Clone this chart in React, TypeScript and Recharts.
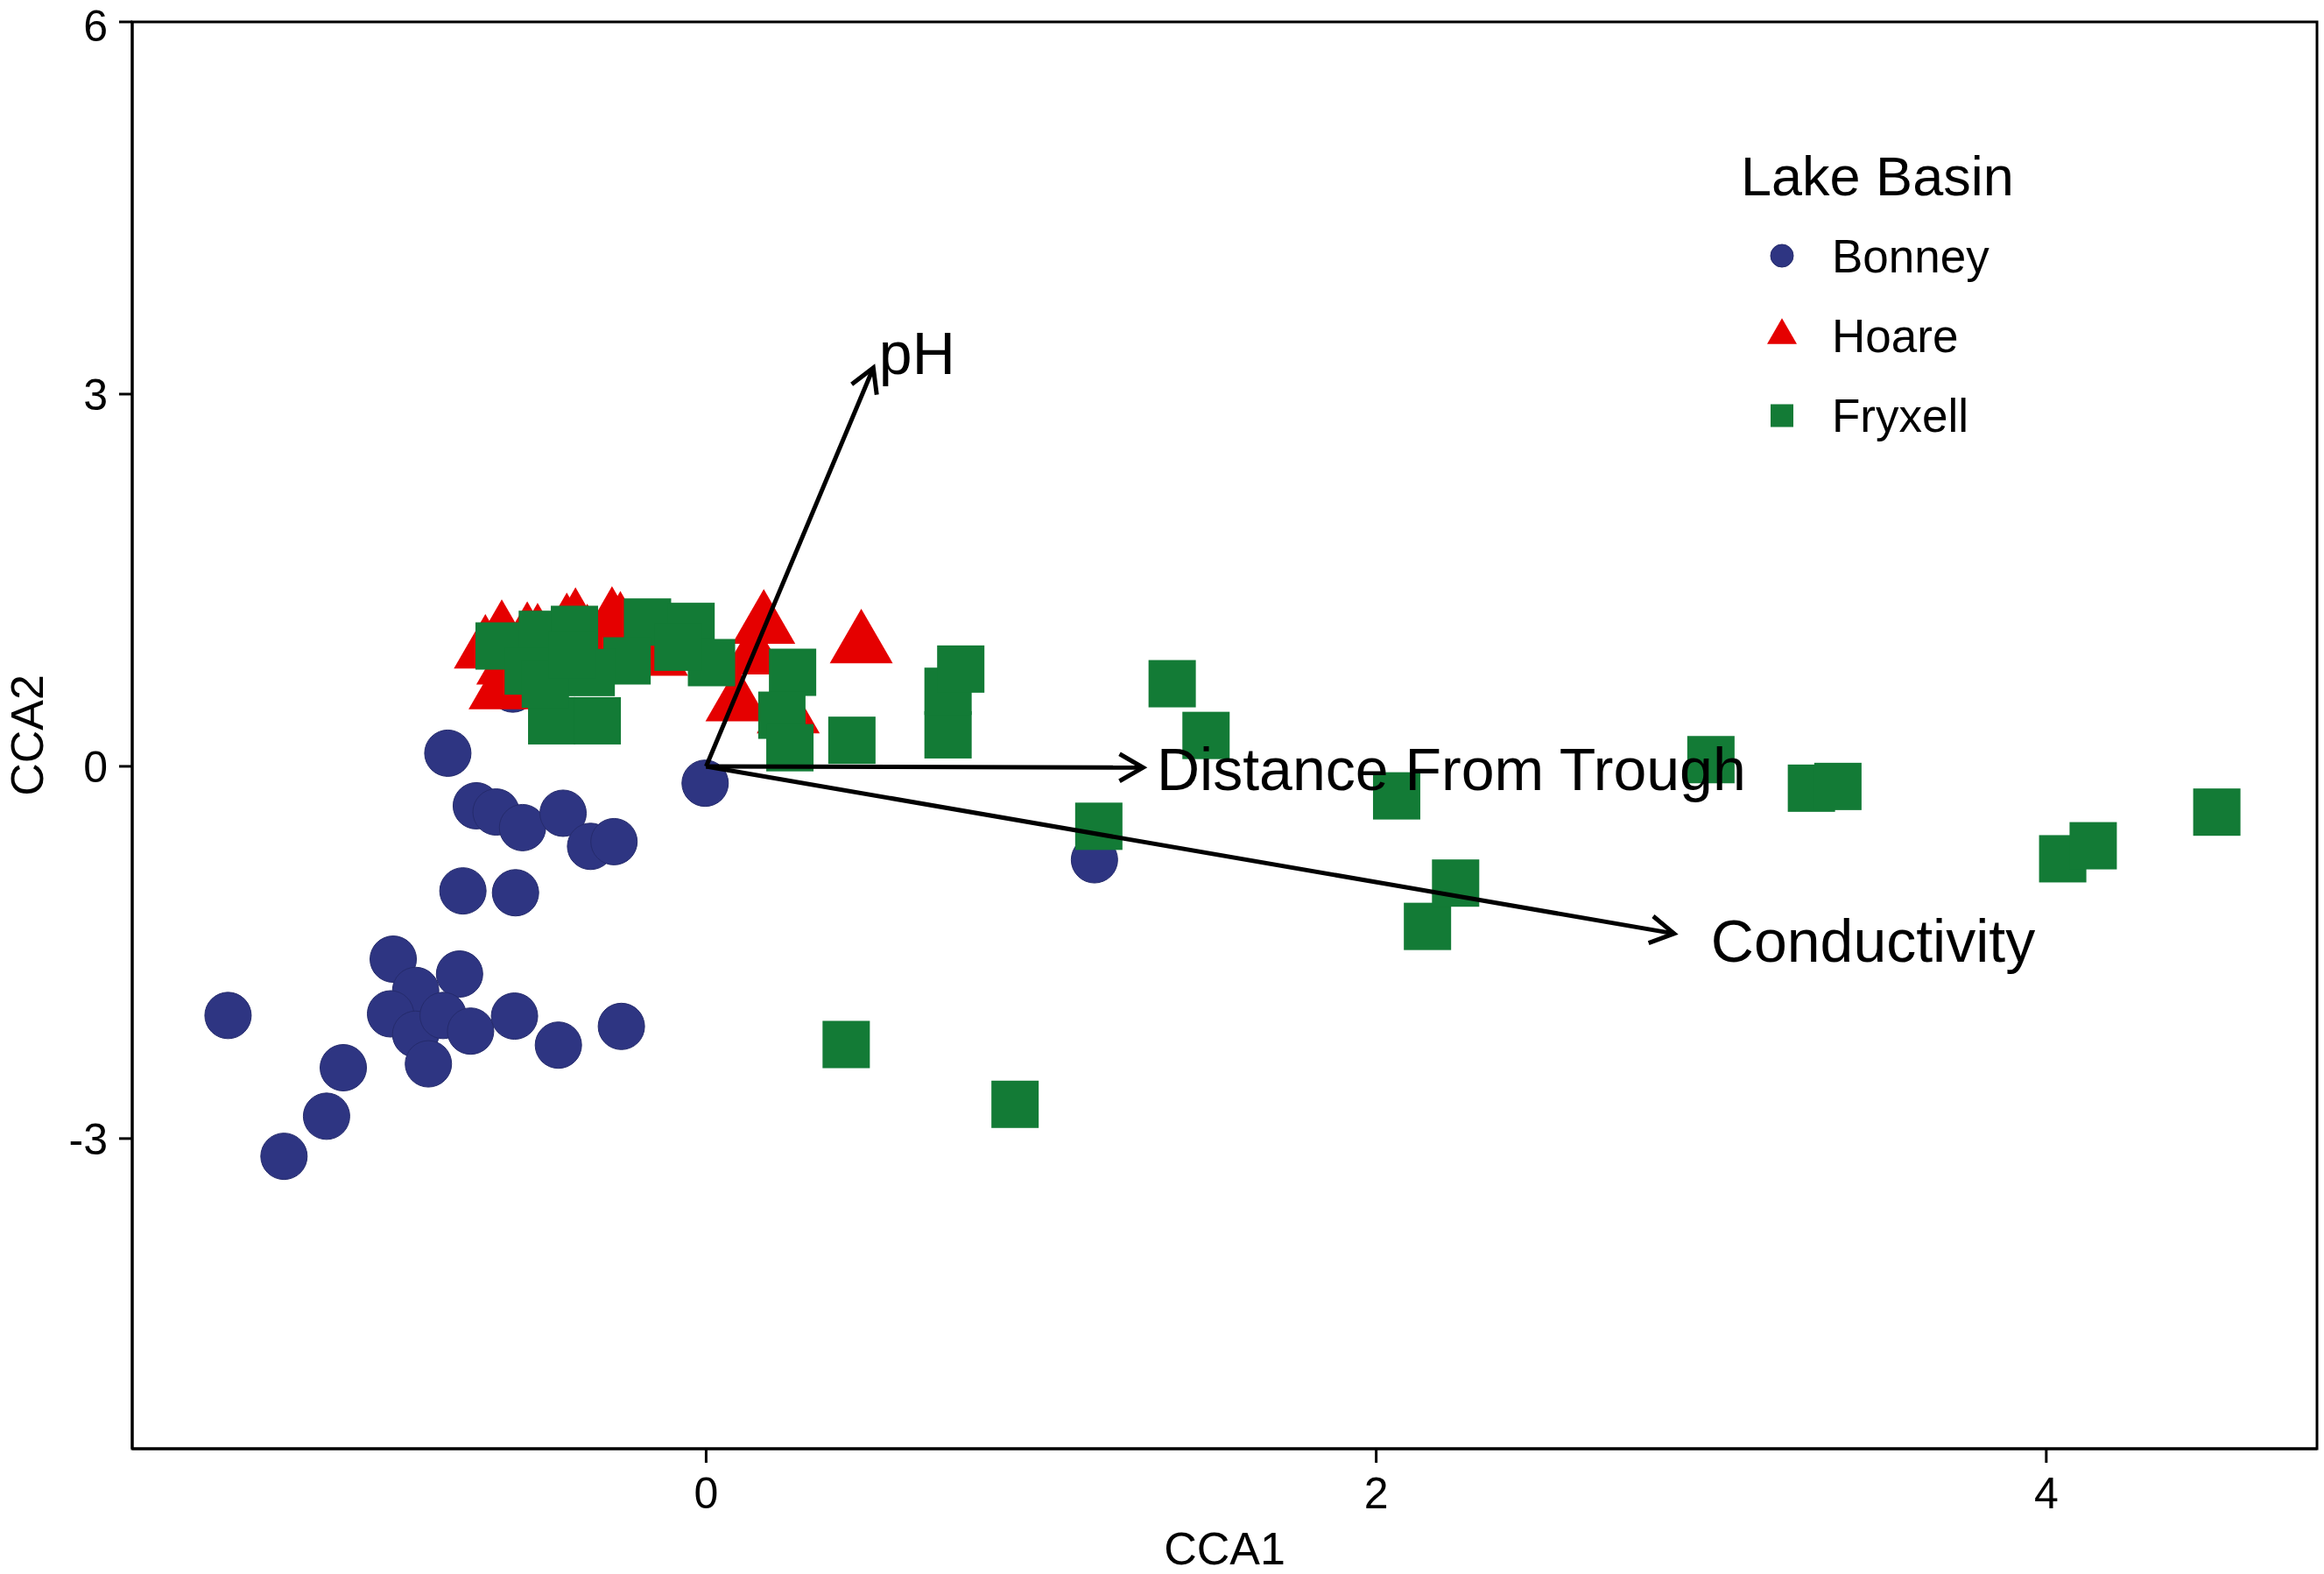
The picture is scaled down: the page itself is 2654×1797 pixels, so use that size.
import React from 'react';
import { ScatterChart, Scatter, XAxis, YAxis, ReferenceArea, Legend } from 'recharts';

// ---- data (CCA site scores) ----
const bonney = [
  { x: -0.771, y: 0.106 }, { x: -0.686, y: -0.318 }, { x: -0.627, y: -0.368 },
  { x: -0.548, y: -0.494 }, { x: -0.427, y: -0.378 }, { x: -0.345, y: -0.645 },
  { x: -0.275, y: -0.607 }, { x: -0.003, y: -0.136 }, { x: -0.726, y: -1.004 },
  { x: -0.569, y: -1.019 }, { x: -1.427, y: -2.008 }, { x: -0.934, y: -1.554 },
  { x: -0.736, y: -1.674 }, { x: -0.867, y: -1.806 }, { x: -0.942, y: -1.995 },
  { x: -0.867, y: -2.159 }, { x: -0.785, y: -2.008 }, { x: -0.703, y: -2.134 },
  { x: -0.829, y: -2.398 }, { x: -0.572, y: -2.013 }, { x: -0.441, y: -2.247 },
  { x: -0.253, y: -2.096 }, { x: -1.083, y: -2.429 }, { x: -1.133, y: -2.82 },
  { x: -1.26, y: -3.143 }, { x: 1.159, y: -0.753 }, { x: -0.577, y: 0.623 },
];

const hoare = [
  { x: -0.659, y: 0.935 }, { x: -0.61, y: 1.053 }, { x: -0.534, y: 1.036 },
  { x: -0.503, y: 1.024 }, { x: -0.416, y: 1.107 }, { x: -0.39, y: 1.149 },
  { x: -0.355, y: 1.018 }, { x: -0.281, y: 1.158 }, { x: -0.256, y: 1.119 },
  { x: -0.615, y: 0.606 }, { x: -0.592, y: 0.806 }, { x: -0.148, y: 0.876 },
  { x: 0.092, y: 0.51 }, { x: 0.142, y: 0.888 }, { x: 0.172, y: 1.135 },
  { x: 0.245, y: 0.413 }, { x: 0.463, y: 0.977 }, { x: -0.45, y: 0.85 },
  { x: -0.2, y: 0.95 },
];

const fryxell = [
  { x: -0.618, y: 0.97 }, { x: -0.489, y: 1.064 }, { x: -0.393, y: 1.104 },
  { x: -0.175, y: 1.163 }, { x: -0.045, y: 1.128 }, { x: 0.016, y: 0.836 },
  { x: -0.236, y: 0.85 }, { x: -0.084, y: 0.96 }, { x: -0.531, y: 0.768 },
  { x: -0.461, y: 0.367 }, { x: -0.325, y: 0.367 }, { x: -0.343, y: 0.756 },
  { x: -0.48, y: 0.662 }, { x: -0.4, y: 0.9 }, { x: 0.258, y: 0.758 },
  { x: 0.226, y: 0.412 }, { x: 0.25, y: 0.15 }, { x: 0.435, y: 0.21 },
  { x: 0.722, y: 0.254 }, { x: 0.722, y: 0.605 }, { x: 0.76, y: 0.784 },
  { x: 0.418, y: -2.242 }, { x: 0.922, y: -2.724 }, { x: 1.172, y: -0.483 },
  { x: 1.391, y: 0.666 }, { x: 1.492, y: 0.249 }, { x: 2.061, y: -0.238 },
  { x: 2.153, y: -1.29 }, { x: 2.237, y: -0.941 }, { x: 2.999, y: 0.054 },
  { x: 3.299, y: -0.176 }, { x: 3.378, y: -0.162 }, { x: 4.049, y: -0.745 },
  { x: 4.14, y: -0.64 }, { x: 4.509, y: -0.369 },
];

// biplot arrows (environmental vectors) and their label anchors
const vectorNames = ['pH', 'Distance From Trough', 'Conductivity'];
const vectorEnds = [
  { x: 0.499, y: 3.212 },
  { x: 1.304, y: -0.01 },
  { x: 2.889, y: -1.348 },
];
const vectorLabels = [
  { x: 0.516, y: 3.336 },
  { x: 1.345, y: -0.018 },
  { x: 2.999, y: -1.406 },
];

const xTicks = [0, 2, 4];
const yTicks = [-3, 0, 3, 6];
const xDomain = [-1.713, 4.808];
const yDomain = [-5.5, 6];

const legendTitle = 'Lake Basin';
const seriesNames = ['Bonney', 'Hoare', 'Fryxell'];

// ---- styling ----
const FONT = '"Liberation Sans", Arial, Helvetica, sans-serif';
const NAVY = '#2E3582';
const RED = '#E50000';
const GREEN = '#137B36';

const circleShape = (p: any) => (
  <circle cx={p.cx} cy={p.cy} r={26.5} fill={NAVY} stroke="#252B6C" strokeWidth={1} />
);
const triPath = (cx: number, cy: number, s: number) => {
  const h = (s * Math.sqrt(3)) / 2;
  return `M${cx},${cy - (2 * h) / 3}L${cx + s / 2},${cy + h / 3}L${cx - s / 2},${cy + h / 3}Z`;
};
const triangleShape = (p: any) => <path d={triPath(p.cx, p.cy, 72)} fill={RED} />;
const squareShape = (p: any) => (
  <rect x={p.cx - 27} y={p.cy - 27} width={54} height={54} fill={GREEN} />
);

const arrowLine = (props: any) => {
  const pts = props.points;
  if (!pts || pts.length < 2) return <g />;
  const a = pts[0];
  const b = pts[1];
  const ang = Math.atan2(b.y - a.y, b.x - a.x);
  const L = 31;
  const phi = Math.PI / 6;
  const p1x = b.x - L * Math.cos(ang - phi);
  const p1y = b.y - L * Math.sin(ang - phi);
  const p2x = b.x - L * Math.cos(ang + phi);
  const p2y = b.y - L * Math.sin(ang + phi);
  return (
    <g>
      <path d={`M${a.x},${a.y}L${b.x},${b.y}`} stroke="#000" strokeWidth={5} fill="none" />
      <path
        d={`M${p1x},${p1y}L${b.x},${b.y}L${p2x},${p2y}`}
        stroke="#000"
        strokeWidth={5}
        fill="none"
        strokeLinejoin="miter"
      />
    </g>
  );
};

const noShape = () => <g />;

const labelShape = (p: any) => (
  <text
    x={p.cx}
    y={p.cy}
    dy="0.355em"
    textAnchor="start"
    fontSize={68}
    fontFamily={FONT}
    fill="#000"
  >
    {p.payload.name}
  </text>
);

const renderLegend = () => (
  <svg width={600} height={380} style={{ overflow: 'visible' }}>
    <text x={38} y={73} fontSize={63} fontFamily={FONT} fill="#000">
      {legendTitle}
    </text>
    <circle cx={85} cy={142} r={13} fill={NAVY} stroke="#252B6C" strokeWidth={1} />
    <text x={142} y={142} dy="0.355em" fontSize={53} fontFamily={FONT} fill="#000">
      {seriesNames[0]}
    </text>
    <path d={triPath(85, 233, 34)} fill={RED} />
    <text x={142} y={233} dy="0.355em" fontSize={53} fontFamily={FONT} fill="#000">
      {seriesNames[1]}
    </text>
    <rect x={85 - 13} y={324.5 - 13} width={26} height={26} fill={GREEN} />
    <text x={142} y={324.5} dy="0.355em" fontSize={53} fontFamily={FONT} fill="#000">
      {seriesNames[2]}
    </text>
  </svg>
);

const tickStyle = { fill: '#000', fontSize: 50, fontFamily: FONT };

export default function App() {
  const arrowData = vectorEnds.map((e) => [{ x: 0, y: 0 }, { x: e.x, y: e.y }]);
  const labelData = vectorLabels.map((l, i) => ({ x: l.x, y: l.y, name: vectorNames[i] }));
  return (
    <div
      style={{
        position: 'absolute',
        left: 0,
        top: 0,
        width: 2654,
        height: 1797,
        background: '#fff',
      }}
    >
      <ScatterChart
        width={2654}
        height={1797}
        margin={{ top: 25, right: 8, bottom: 0, left: 31 }}
      >
        <ReferenceArea
          x1={xDomain[0]}
          x2={xDomain[1]}
          y1={yDomain[0]}
          y2={yDomain[1]}
          fill="none"
          fillOpacity={0}
          stroke="#000"
          strokeWidth={3}
          ifOverflow="visible"
        />
        <XAxis
          type="number"
          dataKey="x"
          domain={xDomain}
          ticks={xTicks}
          allowDataOverflow
          height={143}
          tickSize={16}
          tickMargin={16}
          tick={tickStyle}
          tickLine={{ stroke: '#000', strokeWidth: 3 }}
          axisLine={{ stroke: '#000', strokeWidth: 3 }}
          label={(p: any) => {
            const vb = p.viewBox || { x: 151, width: 2495 };
            return (
              <text
                x={vb.x + vb.width / 2}
                y={1786}
                textAnchor="middle"
                fontSize={52}
                fontFamily={FONT}
                fill="#000"
              >
                CCA1
              </text>
            );
          }}
        />
        <YAxis
          type="number"
          dataKey="y"
          domain={yDomain}
          ticks={yTicks}
          allowDataOverflow
          width={120}
          tickSize={15}
          tickMargin={13}
          tick={tickStyle}
          tickLine={{ stroke: '#000', strokeWidth: 3 }}
          axisLine={{ stroke: '#000', strokeWidth: 3 }}
          label={(p: any) => {
            const vb = p.viewBox || { y: 25, height: 1629 };
            const cy = vb.y + vb.height / 2;
            return (
              <text
                x={31}
                y={cy}
                dy="0.355em"
                textAnchor="middle"
                transform={`rotate(-90, 31, ${cy})`}
                fontSize={52}
                fontFamily={FONT}
                fill="#000"
              >
                CCA2
              </text>
            );
          }}
        />
        <Legend
          layout="vertical"
          align="center"
          verticalAlign="middle"
          wrapperStyle={{ position: 'absolute', left: 1950, top: 150, width: 600, height: 380 }}
          content={renderLegend}
        />
        <Scatter name={seriesNames[0]} data={bonney} shape={circleShape} isAnimationActive={false} />
        <Scatter name={seriesNames[1]} data={hoare} shape={triangleShape} isAnimationActive={false} />
        <Scatter name={seriesNames[2]} data={fryxell} shape={squareShape} isAnimationActive={false} />
        {arrowData.map((d, i) => (
          <Scatter
            key={'arrow' + i}
            name={vectorNames[i] + ' arrow'}
            data={d}
            shape={noShape}
            line={arrowLine}
            legendType="none"
            isAnimationActive={false}
          />
        ))}
        <Scatter
          name="vector labels"
          data={labelData}
          shape={labelShape}
          legendType="none"
          isAnimationActive={false}
        />
      </ScatterChart>
    </div>
  );
}
